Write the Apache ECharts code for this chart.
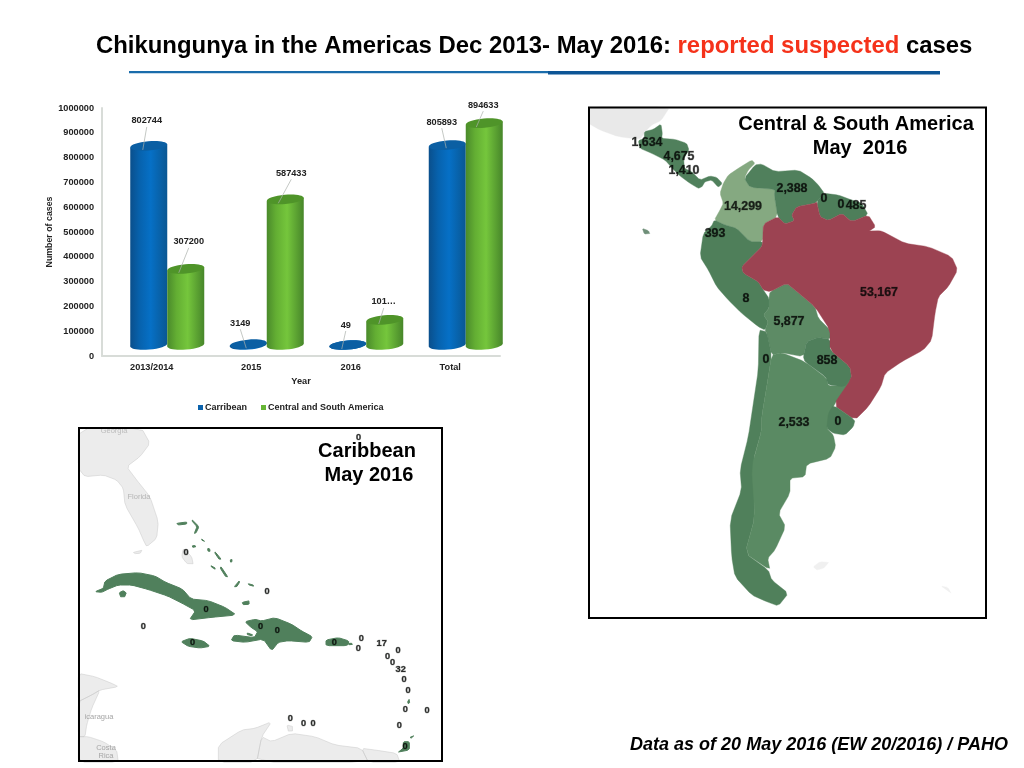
<!DOCTYPE html>
<html><head><meta charset="utf-8">
<style>html,body{margin:0;padding:0;background:#fff}#c{width:1024px;height:768px}</style>
<script src="https://cdn.jsdelivr.net/npm/echarts@6/dist/echarts.min.js"></script>
</head><body><div id="c"></div>
<script>
// ---- bar chart data
const categories = ['2013/2014','2015','2016','Total'];
const caribbeanCases = [802744,3149,49,805893];
const centralSouthCases = [307200,587433,101000,894633];
const caribbeanLabels = ['802744','3149','49','805893'];
const centralSouthLabels = ['307200','587433','101…','894633'];
// ---- map labels: text, image x, image y
const southAmericaValues = [['1,634',647,143],['4,675',679,157],['1,410',684,171],['2,388',792,189],['0',824,199],['0',841,205],['485',856,206],['14,299',743,207],['393',715,234],['8',746,299],['53,167',879,293],['5,877',789,322],['0',766,360],['858',827,361],['2,533',794,423],['0',838,422]];
const caribbeanZoomValues = [['0',851,38],['0',333,381],['0',576,500],['0',393,553],['0',205,605],['0',557,605],['0',607,615],['0',353,653],['0',778,651],['0',859,641],['0',850,670],['17',920,656],['0',969,676],['0',938,694],['0',953,711],['32',977,732],['0',987,764],['0',999,796],['0',991,853],['0',1056,856],['0',973,900],['0',646,881],['0',686,896],['0',714,894],['0',990,965]];

const SA1=[585,100], SA3=[585,350], CB=[75,425];
function P(o,a){
 let pts=[];for(let i=0;i<a.length;i+=2)pts.push([o[0]+a[i]/3,-(o[1]+a[i+1]/3)]);
 const q=.15, r=[];
 pts.forEach((p,i)=>{const n=pts[(i+1)%pts.length];
  r.push([p[0]+(n[0]-p[0])*q,p[1]+(n[1]-p[1])*q]);
  r.push([p[0]+(n[0]-p[0])*(1-q),p[1]+(n[1]-p[1])*(1-q)]);});
 r.push(r[0]);return [r];}
function feat(name,polys){return {type:'Feature',properties:{name},geometry:{type:'MultiPolygon',coordinates:polys}};}
const saShapes = {
 ctxGray:[P(SA1,[10,20,255,20,228,62,200,75,180,95,165,118,100,110,45,90,10,70])],
 faint:[P(SA3,[685,650,705,635,735,638,715,655,695,660]),P(SA3,[1068,708,1088,712,1100,732,1088,722])],
 centralAm:[P(SA1,[178,95,205,88,228,72,232,100,230,115,270,118,305,130,312,150,296,175,298,205,320,215,345,240,375,228,395,232,412,250,400,262,380,240,360,245,350,262,340,265,315,250,285,228,262,205,240,180,200,160,165,145,160,122,178,115])],
 colombia:[P(SA1,[500,180,510,190,490,210,478,235,495,262,570,268,568,285,578,350,535,372,533,425,495,425,455,385,420,375,388,360,405,330,415,310,405,280,415,250,430,225,460,205])],
 venezuela:[P(SA1,[478,235,510,195,530,192,570,215,640,210,680,235,700,255,718,280,700,300,690,310,635,320,620,345,628,362,600,372,578,350,568,285,570,268,495,262])],
 guianas:[P(SA1,[718,280,760,285,800,300,830,310,850,345,800,365,770,340,730,362,705,350,695,305])],
 peru:[P(SA1,[388,360,420,375,455,385,495,425,533,425,530,440,500,470,470,500,475,520,520,545,535,570,552,595,552,625,535,645,550,665,540,690,520,680,470,640,430,600,395,560,370,510,345,470,355,400,380,378])],
 bolivia:[P(SA1,[555,575,605,550,630,570,690,620,700,655,735,690,735,718,700,712,665,725,655,770,590,758,560,765,545,700,540,690,550,665,535,645,552,625,552,595])],
 chile:[P(SA3,[522,-60,545,-55,560,15,545,110,530,200,530,240,505,330,510,500,480,610,550,660,560,690,610,730,580,768,545,755,500,735,450,680,440,620,435,510,470,420,465,360,490,260,505,160,520,60])],
 argentina:[P(SA3,[560,15,590,8,660,35,725,85,730,108,775,108,800,85,800,100,745,165,725,235,745,255,752,290,735,325,665,342,660,380,615,385,615,430,580,490,602,530,570,600,548,625,555,660,480,610,510,500,500,350,530,240,530,200,545,110])],
 paraguay:[P(SA1,[665,725,700,712,735,718,735,750,795,800,800,835,778,860,730,855,722,830,660,785,655,770])],
 brazil:[P(SA1,[695,305,705,350,730,362,770,340,800,365,850,345,872,380,850,395,885,392,900,398,960,430,1030,440,1100,470,1118,510,1090,560,1060,590,1050,640,1040,720,1015,750,950,785,900,820,888,860,850,920,810,960,745,915,800,835,795,800,735,750,735,690,690,620,630,570,605,550,555,575,535,570,520,545,475,520,470,500,500,470,530,440,533,425,535,372,578,350,600,372,628,362,620,345,635,320,690,310])],
 uruguay:[P(SA3,[745,165,810,210,805,230,780,255,745,250,725,235,730,190])],
 galapagos:[P(SA1,[172,385,190,392,195,402,178,402])]
};
const saColors={ctxGray:'#e9e9e9',faint:'#f0f0f0',centralAm:'#50805c',colombia:'#85a981',venezuela:'#50805c',guianas:'#4e7e5a',brazil:'#9c4352',peru:'#4f7f5a',bolivia:'#5d8b65',paraguay:'#4f7f5b',chile:'#50805b',argentina:'#5a8a63',uruguay:'#50805c',galapagos:'#6f8f78'};
const cbGreen=[
 P(CB,[60,500,85,490,90,468,130,448,190,443,240,453,272,472,322,492,348,522,400,527,450,547,484,570,410,577,343,585,362,557,318,533,278,513,218,493,170,480,130,480,100,492,80,502]),
 P(CB,[133,503,145,497,155,505,148,517,135,515]),
 P(CB,[318,650,345,640,385,648,405,664,375,669,340,664]),
 P(CB,[510,590,540,583,560,588,600,578,650,598,680,618,712,635,702,652,640,647,610,652,590,677,565,642,510,652,468,647,478,630,538,638,548,620,528,607]),
 P(CB,[517,624,535,630,530,633,515,628]),
 P(CB,[753,645,790,638,822,648,817,662,753,662]),
 P(CB,[985,950,1003,950,1003,975,965,982,985,970]),
 P(CB,[1005,937,1018,932,1018,935,1007,940]),
 P(CB,[305,295,335,291,335,297,310,300]),
 P(CB,[352,285,372,305,362,326,358,325,366,305,350,287]),
 P(CB,[502,532,525,527,522,538,502,539]),
 P(CB,[380,342,390,350,388,352,380,345]),
 P(CB,[398,370,405,372,405,380,398,378]),
 P(CB,[420,380,438,402,434,405,420,385]),
 P(CB,[408,422,422,430,420,433,408,425]),
 P(CB,[438,425,458,455,454,458,436,430]),
 P(CB,[478,485,495,465,495,470,484,487]),
 P(CB,[520,476,537,481,535,484,520,479]),
 P(CB,[466,404,472,404,470,412,466,411]),
 P(CB,[352,362,362,362,362,366,352,367]),
 P(CB,[998,830,1003,822,1004,835,999,836]),
 P(CB,[820,655,832,655,832,659,820,659])
];
const cbGray=[
 P(CB,[10,10,200,10,225,55,195,95,155,125,185,165,225,215,250,290,245,340,215,365,205,345,190,310,150,240,145,190,125,165,85,150,30,155,10,130]),
 P(CB,[175,382,205,375,195,385,178,386]),
 P(CB,[325,370,350,395,355,420,335,415,320,395]),
 P(CB,[10,745,60,755,110,775,130,785,75,795,50,810,10,830]),
 P(CB,[10,830,50,810,75,795,50,850,35,900,30,935,10,935]),
 P(CB,[10,935,40,935,85,950,125,975,130,1012,10,1012]),
 P(CB,[430,1012,430,960,500,915,540,910,590,890,560,935,545,1012]),
 P(CB,[545,1012,560,935,590,950,650,925,720,935,780,960,860,970,880,1012]),
 P(CB,[880,1012,860,970,900,975,965,985,975,1012]),
 P(CB,[636,900,655,905,652,920,638,918])
];
echarts.registerMap('southAmerica',{type:'FeatureCollection',features:Object.keys(saShapes).map(k=>feat(k,saShapes[k]))});
echarts.registerMap('caribbean',{type:'FeatureCollection',features:[feat('gray',cbGray),feat('green',cbGreen)]});

// ---- cylinder drawing through the value axis
const BAR_W=37, DEPTH=11, TILT=1.6, RY=4.6;
const seriesOffset=[-3,34];
// label centre and leader start relative to the cylinder's top centre
const labelLayout=[
 [[-2,-25,-6,4],[-8,-21,-2,4],[-2,-20,-6,4],[-5.5,-23,-1,3]],
 [[3,-27,-7,4],[6,-26,-7,4],[-1,-18,-6,4],[-1,-18,-8,4]]
];
const gradFill=(c0,c1,c2,c3)=>({type:'linear',x:0,y:0,x2:1,y2:0,colorStops:[{offset:0,color:c0},{offset:.25,color:c1},{offset:.55,color:c2},{offset:1,color:c3}]});
const blueFill=gradFill('#0a4f8c','#0762ad','#0670c6','#0a5793');
const greenFill=gradFill('#4a8a2b','#63ae33','#75c63c','#47862a');
function cylinderSeries(name,idx,values,labels,fill,topColor,legendColor){
 return {name,type:'custom',coordinateSystem:'cartesian2d',xAxisIndex:0,yAxisIndex:0,
  itemStyle:{color:legendColor},z:idx?4:3,
  encode:{x:0,y:1},
  data:values.map((v,i)=>[categories[i],v,i]),
  renderItem(params,api){
   const i=api.value(2), p=api.coord([api.value(0),api.value(1)]), b=api.coord([api.value(0),0]);
   const cx=p[0]+seriesOffset[idx], ty=p[1]-DEPTH, by=b[1]-DEPTH, w=BAR_W/2;
   const rot=Math.atan2(TILT,w);
   const lay=labelLayout[idx][i];
   const ell=(y,f)=>({type:'ellipse',x:cx,y,rotation:rot,shape:{cx:0,cy:0,rx:w,ry:RY},style:{fill:f}});
   const children=[
    ell(by,fill),
    {type:'polygon',shape:{points:[[cx-w,ty+TILT],[cx+w,ty-TILT],[cx+w,by-TILT],[cx-w,by+TILT]]},style:{fill}},
    ell(ty,topColor),
    {type:'line',shape:{x1:cx+lay[2],y1:ty+lay[3],x2:cx+lay[0],y2:ty+lay[1]+6},style:{stroke:'#aab0aa',lineWidth:.7}},
    {type:'text',x:cx+lay[0],y:ty+lay[1],style:{text:labels[i],fill:'#222',font:'bold 9.2px "Liberation Sans"',align:'center',verticalAlign:'middle'}}
   ];
   return {type:'group',children};
  }};
}
function labelSeries(geoIndex,rows,size){
 return {type:'scatter',coordinateSystem:'geo',geoIndex,symbolSize:1,silent:true,z:6,
  itemStyle:{color:'rgba(0,0,0,0)'},
  data:rows.map(r=>({name:r[0],value:[r[1],-r[2]]})),
  label:{show:true,position:'inside',formatter:'{b}',color:'#000',fontFamily:'Liberation Sans',fontWeight:'bold',fontSize:size,textBorderColor:'rgba(20,30,20,.55)',textBorderWidth:.7}};
}
const caribbeanValues=caribbeanZoomValues.map(r=>[r[0],CB[0]+r[1]/3,CB[1]+r[2]/3]);
const geoBase={silent:true,roam:false,aspectScale:1,label:{show:false},emphasis:{disabled:true},select:{disabled:true}};
const txt=(x,y,text,font,fill)=>({type:'text',x,y,z:18,style:{text,font,fill:fill||'#000',align:'center',verticalAlign:'middle'}});
const grayF='7.5px "Liberation Sans"';
const boldAxis={fontFamily:'Liberation Sans',fontWeight:'bold',fontSize:9.2,color:'#222'};
const option={
 animation:false,backgroundColor:'#fff',
 title:{left:96,top:34,padding:0,text:'{a|Chikungunya in the Americas Dec 2013- May 2016: }{r|reported suspected}{a| cases}',
  textStyle:{rich:{a:{fontFamily:'Liberation Sans',fontWeight:'bold',fontSize:23.9,color:'#000'},r:{fontFamily:'Liberation Sans',fontWeight:'bold',fontSize:23.9,color:'#f5321a'}}}},
 legend:{left:198,top:403,padding:0,icon:'rect',itemWidth:5,itemHeight:5,itemGap:14,selectedMode:false,
  textStyle:{fontFamily:'Liberation Sans',fontWeight:'bold',fontSize:9,color:'#222',padding:[0,0,0,-3]},
  data:['Carribean','Central and South America']},
 grid:{left:102,right:524,top:108,bottom:412,containLabel:false},
 xAxis:{type:'category',data:categories,name:'Year',nameLocation:'middle',nameGap:21,nameTextStyle:boldAxis,
  axisLine:{lineStyle:{color:'#d8dcd8',width:2}},axisTick:{show:false},
  axisLabel:Object.assign({margin:7},boldAxis)},
 yAxis:{type:'value',min:0,max:1000000,interval:100000,name:'Number of cases',nameLocation:'middle',nameGap:42,
  nameTextStyle:Object.assign({},boldAxis,{fontSize:8.8}),
  splitLine:{show:false},axisTick:{show:false},axisLine:{show:true,lineStyle:{color:'#d8dcd8',width:2}},
  axisLabel:Object.assign({margin:8,formatter:v=>String(v)},boldAxis)},
 geo:[
  Object.assign({},geoBase,{map:'southAmerica',left:589,top:107,width:397,height:511,
   boundingCoords:[[589,-107],[986,-618]],
   itemStyle:{borderWidth:.4},
   regions:Object.keys(saColors).map(n=>({name:n,itemStyle:{areaColor:saColors[n],borderColor:saColors[n]}}))}),
  Object.assign({},geoBase,{map:'caribbean',left:79,top:428,width:363,height:333,
   boundingCoords:[[79,-428],[442,-761]],
   itemStyle:{borderWidth:.5},
   regions:[{name:'gray',itemStyle:{areaColor:'#ececec',borderColor:'#c9c9c9',borderWidth:.5}},{name:'green',itemStyle:{areaColor:'#50805c',borderColor:'#50805c',borderWidth:1}}]})
 ],
 series:[
  cylinderSeries('Carribean',0,caribbeanCases,caribbeanLabels,blueFill,'#0b5fa3','#0a62ac'),
  cylinderSeries('Central and South America',1,centralSouthCases,centralSouthLabels,greenFill,'#4f9429','#66b535'),
  labelSeries(0,southAmericaValues,12.4),
  labelSeries(1,caribbeanValues,9.2)
 ],
 graphic:[
  {type:'rect',z:19,shape:{x:129,y:71,width:419,height:2.2},style:{fill:'#1a6cab'}},
  {type:'rect',z:19,shape:{x:548,y:71,width:392,height:3.6},style:{fill:'#0d5596'}},
  {type:'rect',z:19,shape:{x:589,y:107.5,width:397,height:510.5},style:{fill:'none',stroke:'#000',lineWidth:2}},
  {type:'rect',z:19,shape:{x:79,y:428,width:363,height:333},style:{fill:'none',stroke:'#000',lineWidth:2}},
  txt(856,124,'Central & South America','bold 20px "Liberation Sans"'),
  txt(860,148,'May  2016','bold 20px "Liberation Sans"'),
  txt(367,451,'Caribbean','bold 20px "Liberation Sans"'),
  txt(369,475,'May 2016','bold 20px "Liberation Sans"'),
  txt(819,745,'Data as of 20 May 2016 (EW 20/2016) / PAHO','italic bold 18px "Liberation Sans"'),
  txt(114,431,'Georgia',grayF,'#bcbcbc'),
  txt(139,497,'Florida',grayF,'#b5b5b5'),
  txt(99,717,'icaragua',grayF,'#a5a5a5'),
  txt(106,748,'Costa',grayF,'#a5a5a5'),
  txt(106,755.5,'Rica',grayF,'#a5a5a5')
 ]
};
echarts.init(document.getElementById('c'),null,{renderer:'canvas'}).setOption(option);
</script></body></html>
